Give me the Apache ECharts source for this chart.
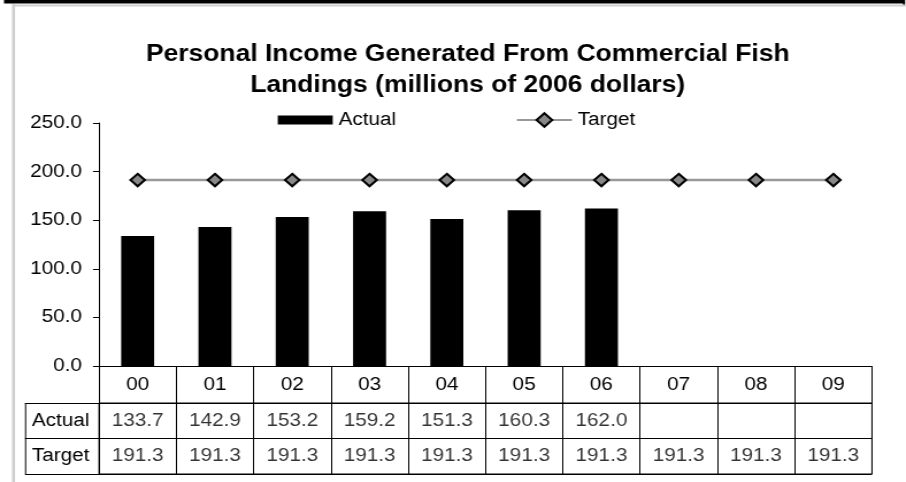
<!DOCTYPE html>
<html>
<head>
<meta charset="utf-8">
<script src="https://cdn.jsdelivr.net/npm/echarts@6/dist/echarts.min.js"></script>
<style>
  html, body { margin: 0; padding: 0; background: #fff; overflow: hidden; }
  /* the chart is laid out narrower and stretched to the full 906px width */
  #chart { width: 788px; height: 482px; transform: scaleX(1.1497); transform-origin: 0 0; }
</style>
</head>
<body>
<div id="chart"></div>
<script>
// ---- data ----
const years = ['00', '01', '02', '03', '04', '05', '06', '07', '08', '09'];
const actual = [133.7, 142.9, 153.2, 159.2, 151.3, 160.3, 162.0, null, null, null];
const target = [191.3, 191.3, 191.3, 191.3, 191.3, 191.3, 191.3, 191.3, 191.3, 191.3];
const rowNames = ['Actual', 'Target'];
const yMin = 0, yMax = 250, yStep = 50;

// ---- layout (page pixels, converted to stretched units) ----
const SX = 906 / 788;
const px = v => v / SX;
const FONT = "'Liberation Sans', Arial, Helvetica, sans-serif";
const plotL = 99, plotR = 872, plotT = 123, plotB = 366;
const tblTop = 403, tblBot = 474, rowHeadL = 25;

const chart = echarts.init(document.getElementById('chart'), null, { renderer: 'canvas' });

const rowPoints = (vals, row) => vals
  .map((v, i) => (v == null ? null : [i, row, v]))
  .filter(d => d !== null);

const cellLabel = {
  show: true, position: 'inside', color: '#000', fontSize: 18, fontFamily: FONT,
  formatter: p => p.value[2].toFixed(1)
};

chart.setOption({
  animation: false,
  backgroundColor: '#fff',
  textStyle: { fontFamily: FONT, color: '#000' },
  title: {
    text: 'Personal Income Generated From Commercial Fish\nLandings (millions of 2006 dollars)',
    left: px(462), top: 34, textAlign: 'center',
    textStyle: { fontSize: 23, fontWeight: 'bold', lineHeight: 31, color: '#000', fontFamily: FONT }
  },
  legend: [
    {
      data: [{ name: 'Actual', icon: 'rect' }], left: px(272), top: 106,
      itemWidth: px(55), itemHeight: 9,
      textStyle: { fontSize: 18, lineHeight: 18, color: '#000', fontFamily: FONT }
    },
    {
      data: ['Target'], left: px(510), top: 106,
      itemWidth: px(55), itemHeight: 17,
      lineStyle: { width: 2, color: '#999999' },
      textStyle: { fontSize: 18, lineHeight: 18, color: '#000', fontFamily: FONT }
    }
  ],
  grid: [
    { left: px(plotL), top: plotT, width: px(plotR - plotL), height: plotB - plotT },
    { left: px(plotL), top: tblTop, width: px(plotR - plotL), height: tblBot - tblTop,
      show: true, borderColor: '#000', borderWidth: 1, backgroundColor: 'transparent' }
  ],
  xAxis: [
    {
      type: 'category', gridIndex: 0, data: years,
      axisLine: { show: true, lineStyle: { color: '#000', width: 1 } },
      axisTick: { show: true, length: tblTop - plotB, interval: 0, alignWithLabel: false,
                  lineStyle: { color: '#000', width: 1 } },
      axisLabel: { show: true, interval: 0, margin: 10, fontSize: 18, lineHeight: 18,
                   color: '#000', fontFamily: FONT },
      splitLine: { show: false }
    },
    {
      type: 'category', gridIndex: 1, data: years,
      axisLine: { show: false }, axisTick: { show: false }, axisLabel: { show: false },
      splitLine: { show: true, interval: 0, lineStyle: { color: '#000', width: 1 } }
    }
  ],
  yAxis: [
    {
      type: 'value', gridIndex: 0, min: yMin, max: yMax, interval: yStep,
      axisLine: { show: true, lineStyle: { color: '#000', width: 1 } },
      axisTick: { show: true, length: px(6), lineStyle: { color: '#000', width: 1 } },
      axisLabel: { margin: px(17), fontSize: 18, color: '#000', fontFamily: FONT,
                   formatter: v => v.toFixed(1) },
      splitLine: { show: false }
    },
    {
      type: 'category', gridIndex: 1, data: rowNames, inverse: true,
      axisLine: { show: true, lineStyle: { color: '#000', width: 1 } },
      axisTick: { show: true, length: px(plotL - rowHeadL), lineStyle: { color: '#000', width: 1 } },
      axisLabel: { align: 'left', margin: px(plotL - 32), fontSize: 18, color: '#000', fontFamily: FONT },
      splitLine: { show: true, lineStyle: { color: '#000', width: 1 } }
    }
  ],
  graphic: [
    // page frame
    { type: 'rect', silent: true, shape: { x: px(4), y: 0, width: px(901), height: 3.5 }, style: { fill: '#000' } },
    { type: 'rect', silent: true, shape: { x: px(903), y: 0, width: px(2), height: 5 }, style: { fill: '#000' } },
    { type: 'line', silent: true, shape: { x1: px(13), y1: 5.5, x2: px(906), y2: 5.5 }, style: { stroke: '#cfcfcf', lineWidth: 2 } },
    { type: 'line', silent: true, shape: { x1: px(13.5), y1: 4, x2: px(13.5), y2: 482 }, style: { stroke: '#cfcfcf', lineWidth: px(3) } },
    // left edge of the row-header cells
    { type: 'line', silent: true, shape: { x1: px(rowHeadL) + 0.5, y1: tblTop, x2: px(rowHeadL) + 0.5, y2: tblBot }, style: { stroke: '#000', lineWidth: 1 } }
  ],
  series: [
    {
      name: 'Actual', type: 'bar', xAxisIndex: 0, yAxisIndex: 0,
      data: actual, barWidth: px(33),
      itemStyle: { color: '#000' }
    },
    {
      name: 'Target', type: 'line', xAxisIndex: 0, yAxisIndex: 0,
      data: target, symbol: 'diamond', symbolSize: 12.5,
      lineStyle: { color: '#999999', width: 2.5 },
      itemStyle: { color: '#888888', borderColor: '#000', borderWidth: 2 }
    },
    {
      name: 'Actual cells', type: 'scatter', xAxisIndex: 1, yAxisIndex: 1,
      data: rowPoints(actual, 'Actual'), symbolSize: 1, silent: true,
      itemStyle: { color: 'transparent' }, label: cellLabel
    },
    {
      name: 'Target cells', type: 'scatter', xAxisIndex: 1, yAxisIndex: 1,
      data: rowPoints(target, 'Target'), symbolSize: 1, silent: true,
      itemStyle: { color: 'transparent' }, label: cellLabel
    }
  ]
});
</script>
</body>
</html>
